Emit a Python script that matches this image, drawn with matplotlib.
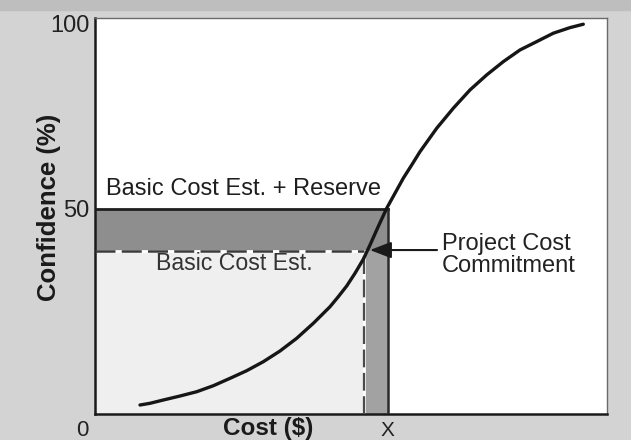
import matplotlib
matplotlib.use("Agg")
import matplotlib.pyplot as plt

# ---- data ----
curve_x = [8.79, 10.74, 13.34, 16.60, 19.86, 23.11, 26.37, 29.63, 32.87, 36.13,
           39.39, 42.64, 45.90, 47.52, 49.16, 50.78, 52.40, 53.71, 55.27, 56.97,
           58.59, 60.21, 61.86, 63.48, 66.74, 69.98, 73.24, 76.50, 79.75, 83.01,
           86.27, 89.51, 92.77, 95.37]
curve_y = [-2.97, -2.51, -1.62, -0.54, 0.62, 2.24, 4.24, 6.30, 8.73, 11.62,
           15.05, 19.11, 23.59, 26.30, 29.19, 32.62, 36.41, 40.27, 45.10, 50.19,
           54.24, 58.30, 61.89, 65.49, 71.81, 77.22, 82.16, 86.22, 89.81, 92.97,
           95.22, 97.49, 99.00, 99.92]
reserve_level = 50.0      # Basic Cost Est. + Reserve
basic_level = 38.6        # Basic Cost Est.
commit_x = 57.2           # X
basic_x = 52.5
y_ticks = [50, 100]
y_tick_labels = ["50", "100"]

plt.rcParams['font.family'] = ['Liberation Sans', 'DejaVu Sans']

fig = plt.figure(figsize=(6.31, 4.40), dpi=100, facecolor='#d3d3d3')
fig.patches.append(plt.Rectangle((0, 0.978), 1, 0.022, transform=fig.transFigure,
                                 color='#bebebe', zorder=0))
ax = fig.add_axes([95/631, 1-414/440, 512/631, 396/440])
ax.set_facecolor('white')
ax.set_xlim(0, 100)
ax.set_ylim(-5.4, 101.6)

ymin = -5.4
ax.fill_between([0, basic_x], ymin, basic_level, color='#efefef', zorder=1, lw=0)
ax.fill_between([0, commit_x], basic_level, reserve_level, color='#8e8e8e', zorder=1, lw=0)
ax.fill_between([basic_x, commit_x], ymin, basic_level, color='#a2a2a2', zorder=1, lw=0)

ax.plot([0, commit_x], [reserve_level, reserve_level], color='#1e1e1e', lw=2.0, zorder=3)
ax.plot([commit_x, commit_x], [ymin, reserve_level], color='#2a2a2a', lw=1.8, zorder=3)
ax.plot([0, basic_x], [basic_level, basic_level], color='white', lw=2.0, zorder=2)
ax.plot([0, basic_x], [basic_level, basic_level], color='#3a3a3a', lw=1.8,
        dashes=(8, 2.5), zorder=3)
ax.plot([basic_x, basic_x], [ymin, basic_level], color='white', lw=2.0, zorder=2)
ax.plot([basic_x, basic_x], [ymin, basic_level], color='#4a4a4a', lw=1.6,
        dashes=(8, 2.5), zorder=3)

ax.plot(curve_x, curve_y, color='#161616', lw=2.4, solid_capstyle='round',
        solid_joinstyle='round', zorder=4)

ax.text(2.2, 55.4, "Basic Cost Est. + Reserve", fontsize=17, color='#1e1e1e',
        va='center', ha='left', zorder=5)
ax.text(27.2, 35.3, "Basic Cost Est.", fontsize=16.7, color='#333333',
        va='center', ha='center', zorder=5)
ax.text(67.7, 40.6, "Project Cost", fontsize=17, color='#222222', va='center', ha='left')
ax.text(67.7, 34.6, "Commitment", fontsize=17, color='#222222', va='center', ha='left')
ax.annotate("", xy=(53.7, 38.9), xytext=(66.8, 38.9),
            arrowprops=dict(arrowstyle='-|>,head_length=1.3,head_width=0.5',
                            color='#1a1a1a', lw=1.5, shrinkA=0, shrinkB=0), zorder=6)

for s in ['left', 'bottom']:
    ax.spines[s].set_linewidth(1.8)
    ax.spines[s].set_color('#1a1a1a')
for s in ['top', 'right']:
    ax.spines[s].set_linewidth(1.0)
    ax.spines[s].set_color('#6a6a6a')
ax.set_yticks(y_ticks)
ax.set_yticklabels(y_tick_labels, fontsize=17, color='#222222')
ax.tick_params(axis='y', length=0, pad=4)
ax.set_xticks([commit_x])
ax.set_xticklabels(["X"], fontsize=15, color='#222222')
ax.tick_params(axis='x', length=0, pad=5)
ax.text(-2.4, -9.8, "0", fontsize=16, color='#222222', ha='center', va='center',
        clip_on=False)

fig.text(49/631, 1-207/440, "Confidence (%)", fontsize=18.5, fontweight='bold',
         color='#1a1a1a', rotation=90, ha='center', va='center')
fig.text(268/631, 1-428/440, "Cost ($)", fontsize=17.5, fontweight='bold',
         color='#1a1a1a', ha='center', va='center')

fig.savefig("out.png", dpi=100, facecolor=fig.get_facecolor())
